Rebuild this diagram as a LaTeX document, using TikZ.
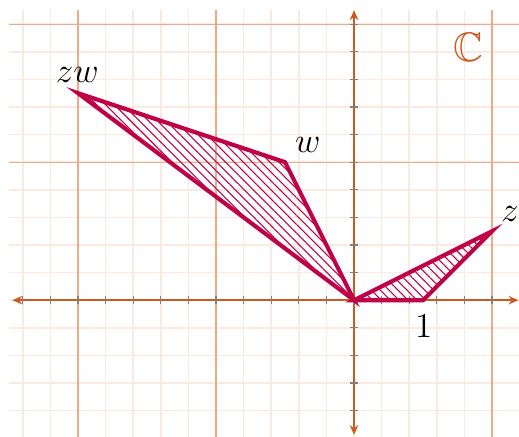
\documentclass[tikz,border=0pt]{standalone}
\usepackage{amssymb}
\usetikzlibrary{arrows.meta,patterns.meta}
\definecolor{axiscol}{RGB}{205,88,32}
\definecolor{majcol}{RGB}{236,172,136}
\definecolor{mincol}{RGB}{251,234,224}
\definecolor{tricol}{RGB}{192,0,70}

\begin{document}
\begin{tikzpicture}[
  font=\fontsize{14.5}{17}\selectfont,
  >={Stealth[length=4pt,width=3.5pt]},
  minor/.style={mincol,line width=0.7pt},
  major/.style={majcol,line width=0.5pt},
  axis/.style={axiscol,line width=0.6pt,<->},
  tickmark/.style={gray,line width=0.5pt},
  tri/.style={draw=tricol,line width=1.7pt,
    pattern={Lines[angle=-45,distance=2.6pt,line width=0.45pt]},pattern color=tricol},
  lbl/.style={inner sep=1pt}]
  \useasboundingbox (-5.13,-1.97) rectangle (2.39,4.35);
  % grid
  \draw[minor] (-5,-2) grid[step=0.4] (2.4,4.2);
  \foreach \x in {-4,-2,2}
    \draw[major] (\x,-2) -- (\x,4.2);
  \foreach \y in {2,4}
    \draw[major] (-5,\y) -- (2.4,\y);
  % axes
  \coordinate (xl) at (-4.95,0);
  \coordinate (xr) at (2.38,0);
  \coordinate (yb) at (0,-1.95);
  \coordinate (yt) at (0,4.2);
  \draw[axis] (xl) -- (xr);
  \draw[axis] (yb) -- (yt);
  \foreach \t in {-12,...,5}
    \draw[tickmark] (\t*0.4,-0.06) -- (\t*0.4,0.06);
  \foreach \t in {-4,...,10}
    \draw[tickmark] (-0.06,\t*0.4) -- (0.06,\t*0.4);
  % points
  \coordinate (O) at (0,0);
  \coordinate (one) at (1,0);
  \coordinate (z) at (2,1);
  \coordinate (w) at (-1,2);
  \coordinate (zw) at (-4,3);
  \draw[tri] (O) -- (one) -- (z) -- cycle;
  \draw[tri] (O) -- (w) -- (zw) -- cycle;
  % labels
  \node[lbl] (lz)   at (2.26,1.25)  {$z$};
  \node[lbl] (lw)   at (-0.67,2.25) {$w$};
  \node[lbl] (lzw)  at (-4.01,3.26) {$zw$};
  \node[lbl] (lone) at (1.01,-0.38) {$1$};
  \node[lbl,text=axiscol,font=\fontsize{17}{20}\selectfont] (cset) at (1.65,3.67) {$\mathbb{C}$};
\end{tikzpicture}
\end{document}
